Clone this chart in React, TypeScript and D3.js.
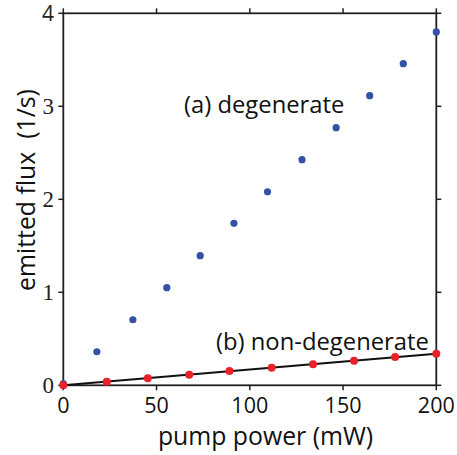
import React from "react";
import * as d3 from "d3";

const degX = [0, 18, 37.3, 55.5, 73.4, 91.5, 109.5, 128, 146.3, 164.3, 182.3, 200];
const degY = [0.017, 0.361, 0.705, 1.05, 1.394, 1.742, 2.08, 2.426, 2.77, 3.114, 3.458, 3.8];
const nonX = [0, 23.3, 45.3, 67.5, 89.1, 111.7, 133.9, 155.9, 177.9, 200];
const nonY = [0, 0.039, 0.075, 0.114, 0.154, 0.189, 0.226, 0.265, 0.304, 0.34];
const fitX = [0, 200];
const fitY = [0, 0.34];
const xTicks = [0, 50, 100, 150, 200];
const yTicks = [0, 1, 2, 3, 4];
const yTickSans = [false, false, false, false, true];

const W = 457;
const H = 455;
const left = 63.3;
const right = 436.3;
const top = 13.3;
const bottom = 385.3;

export default function App() {
  const x = d3.scaleLinear().domain([0, 200]).range([left, right]);
  const y = d3.scaleLinear().domain([0, 4]).range([bottom, top]);
  const line = d3
    .line<number>()
    .x((_, i) => x(fitX[i]))
    .y((d) => y(d));
  const axisColor = "#231f20";
  const sans = "'Open Sans', sans-serif";
  return (
    <svg
      width={W}
      height={H}
      style={{ position: "absolute", left: 0, top: 0, background: "#fff" }}
    >
      {/* frame */}
      <rect
        x={left}
        y={top}
        width={right - left}
        height={bottom - top}
        fill="none"
        stroke={axisColor}
        strokeWidth={1.8}
      />
      {/* x ticks */}
      {xTicks.map((t) => (
        <g key={"xt" + t}>
          <line x1={x(t)} x2={x(t)} y1={bottom} y2={bottom + 5} stroke={axisColor} strokeWidth={1.5} />
          <line x1={x(t)} x2={x(t)} y1={top} y2={top - 5} stroke={axisColor} strokeWidth={1.5} />
          <text
            x={x(t)}
            y={413}
            textAnchor="middle"
            fontFamily={sans}
            fontSize={21.5}
            fill="#111"
          >
            {t}
          </text>
        </g>
      ))}
      {/* y ticks */}
      {yTicks.map((t, i) => (
        <g key={"yt" + t}>
          <line x1={left} x2={left - 5} y1={y(t)} y2={y(t)} stroke={axisColor} strokeWidth={1.5} />
          <line x1={right} x2={right + 5} y1={y(t)} y2={y(t)} stroke={axisColor} strokeWidth={1.5} />
          <text
            x={54}
            y={y(t) + 7.5}
            textAnchor="end"
            fontFamily={yTickSans[i] ? sans : "'Liberation Serif', 'DejaVu Serif', serif"}
            fontSize={yTickSans[i] ? 21 : 23}
            fill="#222"
          >
            {t}
          </text>
        </g>
      ))}
      {/* fit line */}
      <path d={line(fitY) || ""} fill="none" stroke="#111" strokeWidth={2} />
      {/* points */}
      {degX.map((v, i) => (
        <circle key={"d" + i} cx={x(v)} cy={y(degY[i])} r={3.6} fill="#3352a6" />
      ))}
      {nonX.map((v, i) => (
        <circle key={"n" + i} cx={x(v)} cy={y(nonY[i])} r={4} fill="#ec2028" />
      ))}
      {/* annotations */}
      <text x={184} y={113} fontFamily={sans} fontSize={23.8} fill="#111">
        (a) degenerate
      </text>
      <text x={216} y={350} fontFamily={sans} fontSize={23.8} fill="#111">
        (b) non-degenerate
      </text>
      {/* axis titles */}
      <text
        x={265.5}
        y={445}
        textAnchor="middle"
        fontFamily={sans}
        fontSize={24.8}
        fill="#111"
      >
        pump power (mW)
      </text>
      <text
        transform={`translate(35,190) rotate(-90)`}
        textAnchor="middle"
        fontFamily={sans}
        fontSize={24.8}
        fill="#111"
        style={{ whiteSpace: "pre" }}
      >
        {"emitted flux  (1/s)"}
      </text>
    </svg>
  );
}
